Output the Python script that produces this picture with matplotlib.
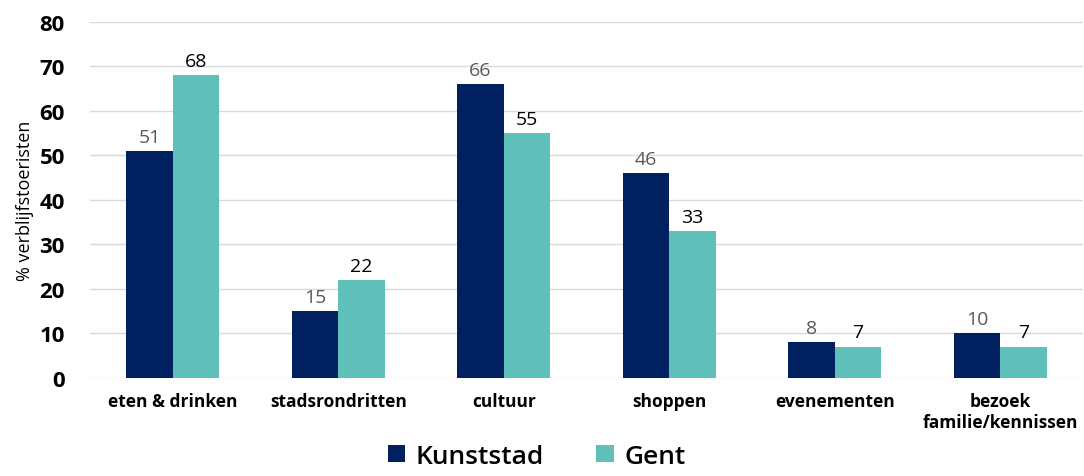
import numpy as np
import matplotlib.pyplot as plt

plt.rcParams['font.family'] = ['Open Sans', 'DejaVu Sans']

categories = ['eten & drinken', 'stadsrondritten', 'cultuur', 'shoppen',
              'evenementen', 'bezoek\nfamilie/kennissen']
kunststad = [51, 15, 66, 46, 8, 10]
gent = [68, 22, 55, 33, 7, 7]
yticks = [0, 10, 20, 30, 40, 50, 60, 70, 80]

navy = '#002060'
teal = '#5FC0B9'

fig = plt.figure(figsize=(10.84, 4.77), dpi=100)
ax = fig.add_axes([0.083, 0.2055, 0.916, 0.7465])

x = np.arange(len(categories))
w = 0.28
b1 = ax.bar(x - w/2, kunststad, w, color=navy, label='Kunststad', zorder=3)
b2 = ax.bar(x + w/2, gent, w, color=teal, label='Gent', zorder=3)

for rect, v in zip(b1, kunststad):
    ax.text(rect.get_x() + rect.get_width()/2, v + 1.2, str(v), ha='center', va='bottom',
            fontsize=14, color='#595959')
for rect, v in zip(b2, gent):
    ax.text(rect.get_x() + rect.get_width()/2, v + 1.2, str(v), ha='center', va='bottom',
            fontsize=14, color='black')

ax.set_xlim(-0.5, len(categories) - 0.5)
ax.set_ylim(0, 80)
ax.set_yticks(yticks)
ax.set_yticklabels([str(t) for t in yticks], fontsize=16, fontweight='bold')
ax.set_xticks(x)
ax.set_xticklabels(categories, fontsize=12.5, fontweight='bold')
ax.tick_params(axis='both', length=0)
ax.tick_params(axis='x', pad=10)
ax.tick_params(axis='y', pad=18)
ax.grid(axis='y', color='#d9d9d9', linewidth=1, zorder=0)
for s in ax.spines.values():
    s.set_visible(False)
ax.set_ylabel('% verblijfstoeristen', fontsize=13, labelpad=4)

fig.legend(handles=[b1, b2], loc='lower center', bbox_to_anchor=(0.495, -0.035), ncol=2,
           frameon=False, prop={'size': 19, 'weight': 'semibold'},
           handlelength=0.65, handleheight=0.65,
           handletextpad=0.4, columnspacing=2.0)

fig.savefig('out.png', dpi=100)
